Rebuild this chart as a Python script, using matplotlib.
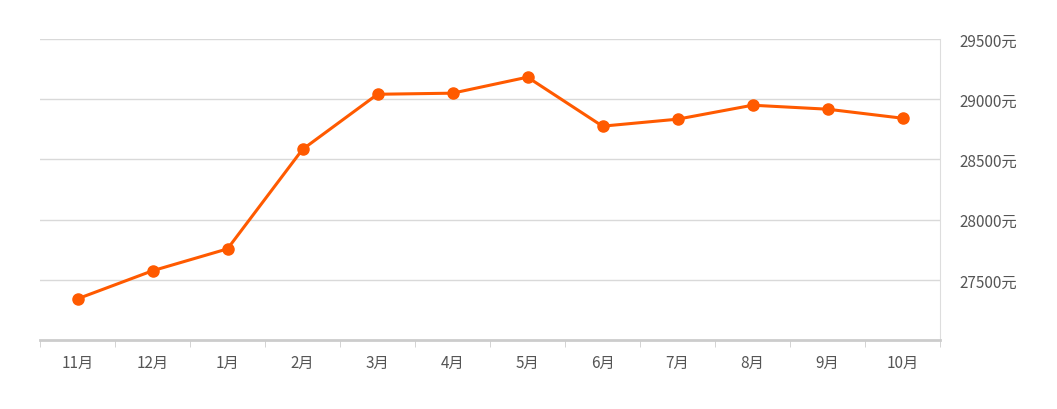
import matplotlib
matplotlib.use("Agg")
import matplotlib.pyplot as plt
import numpy as np

plt.rcParams['font.family'] = ['Noto Sans CJK SC', 'DejaVu Sans']

months = ["11月", "12月", "1月", "2月", "3月", "4月", "5月", "6月", "7月", "8月", "9月", "10月"]
prices = [27342, 27575, 27757, 28583, 29041, 29050, 29183, 28776, 28834, 28950, 28917, 28842]
yticks = [27500, 28000, 28500, 29000, 29500]

fig = plt.figure(figsize=(10.57, 4.10), dpi=100)
ax = fig.add_axes([40/1057, 1-341/410, 900/1057, 301/410])
x = np.arange(len(months))
ax.plot(x, prices, color="#ff5a00", lw=2.2, marker="o", ms=8, zorder=3)
ax.set_xlim(-0.5, len(months)-0.5)
ax.set_ylim(27000, 29500)
ax.set_yticks(yticks)
ax.set_yticklabels([f"{v}元" for v in yticks])
ax.yaxis.tick_right()
ax.grid(axis="y", color="#d9d9d9", lw=1)
ax.set_xticks(x)
ax.set_xticklabels(months)
ax.set_xticks(np.arange(-0.5, len(months)), minor=True)
ax.tick_params(axis="x", which="major", length=0, pad=10, labelsize=11, colors="#555555")
ax.tick_params(axis="x", which="minor", length=5, color="#cccccc")
ax.tick_params(axis="y", length=0, pad=14, labelsize=11, colors="#555555")
for s in ["top", "left"]:
    ax.spines[s].set_visible(False)
ax.spines["right"].set_color("#dddddd")
ax.spines["bottom"].set_color("#cccccc")
ax.spines["bottom"].set_linewidth(2)
fig.savefig("out.png", dpi=100)
